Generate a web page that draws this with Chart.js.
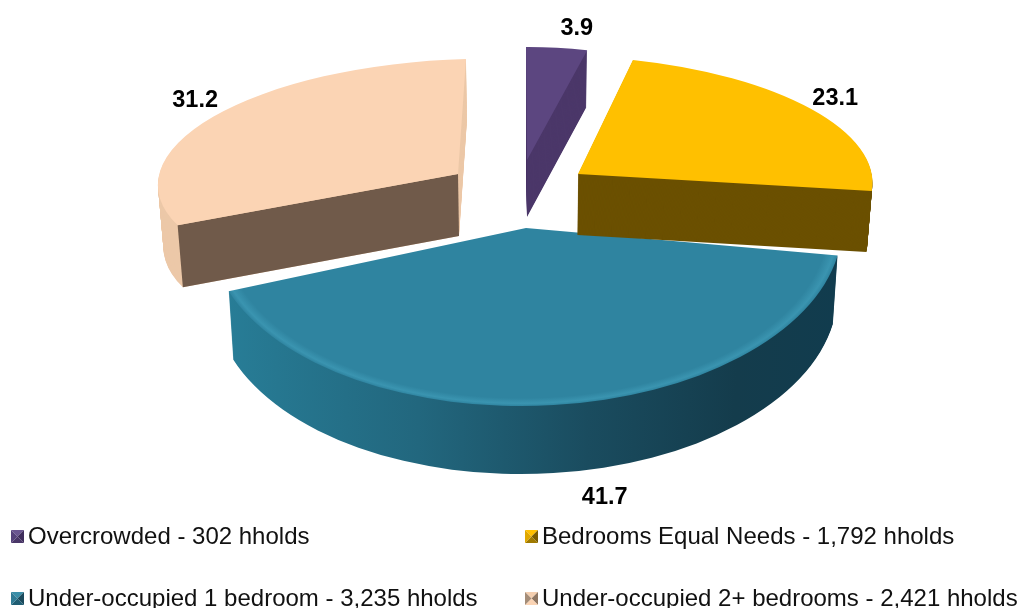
<!DOCTYPE html>
<html>
<head>
<meta charset="utf-8">
<style>
  html, body { margin: 0; padding: 0; background: #fff; overflow: hidden; }
  canvas { display: block; }
</style>
<script src="https://cdn.jsdelivr.net/npm/chart.js@4"></script>
</head>
<body>
<canvas id="myChart" width="1021" height="608"></canvas>
<script>
const categories = [
  "Overcrowded - 302 hholds",
  "Bedrooms Equal Needs - 1,792 hholds",
  "Under-occupied 1 bedroom - 3,235 hholds",
  "Under-occupied 2+ bedrooms - 2,421 hholds",
];
const shares = [3.9, 23.1, 41.7, 31.2];
const shareLabels = ["3.9", "23.1", "41.7", "31.2"];

const topColors = ["#5c4680", "#ffc000", "#2f84a0", "#fbd4b4"];
const wallColors = ["#4b3769", "#6b5000", "#1f5d73", "#ecc8a8"];

// each slice sits on its own tilted plane: tip, and where the radius goes across / up
const planes = [
  { tip: [527, 160], ex: [252, -1], ey: [-1, -113], depth: 57 },
  { tip: [578, 174], ex: [294, 2], ey: [-17, -118], depth: 61 },
  { tip: [526, 228], ex: [316, 5], ey: [14, -178], depth: 68 },
  { tip: [458, 174], ex: [300, -8], ey: [8, -115], depth: 62 },
];
const drawOrder = [0, 3, 2, 1];
const vanishX = 526;
const labelNudges = [[20, -19], [24, -11], [51, 92], [-18, -16]];

// legend markers: top, right, bottom, left facets
const markerFacets = [
  ["#6a5590", "#3f2d5c", "#4a3768", "#55417a"],
  ["#ffc000", "#7a5c00", "#a07a00", "#e0a800"],
  ["#3a8ea8", "#1a4a5c", "#1f5d73", "#2f7a94"],
  ["#f4cfb0", "#8f7763", "#fbd4b4", "#a58d78"],
];
const legendSpots = [[11, 543], [525, 543], [11, 605], [525, 605]];

function placed(plane, t) {
  const s = 1 - 0.015 * t;
  return {
    tip: [vanishX + (plane.tip[0] - vanishX) * s, plane.tip[1] + plane.depth * t],
    ex: [plane.ex[0] * s, plane.ex[1]],
    ey: [plane.ey[0] * s, plane.ey[1]],
  };
}

function drawSlice(ctx, arc, plane, t, fill) {
  const p = placed(plane, t);
  const R = arc.outerRadius;
  ctx.save();
  ctx.translate(p.tip[0], p.tip[1]);
  ctx.transform(p.ex[0] / R, p.ex[1] / R, -p.ey[0] / R, -p.ey[1] / R, 0, 0);
  ctx.translate(-arc.x, -arc.y);
  const keep = arc.options;
  arc.options = {
    backgroundColor: fill,
    borderColor: "transparent",
    borderWidth: 0,
    borderAlign: "center",
    offset: 0,
    spacing: 0,
    circular: true,
  };
  arc.draw(ctx);
  arc.options = keep;
  ctx.restore();
}

function pointAt(p, theta) {
  return [
    p.tip[0] + Math.sin(theta) * p.ex[0] + Math.cos(theta) * p.ey[0],
    p.tip[1] + Math.sin(theta) * p.ex[1] + Math.cos(theta) * p.ey[1],
  ];
}

const pie3d = {
  id: "pie3d",
  beforeDatasetDraw(chart) {
    const ctx = chart.ctx;
    const arcs = chart.getDatasetMeta(0).data;

    drawOrder.forEach((i) => {
      const arc = arcs[i];
      const plane = planes[i];
      const R = arc.outerRadius;
      let wallFill = wallColors[i];
      let topFill = topColors[i];

      if (i === 2) {
        // teal wall goes dark towards the right, rim catches the light
        wallFill = ctx.createLinearGradient(arc.x - R, 0, arc.x + R, 0);
        wallFill.addColorStop(0, "#287f99");
        wallFill.addColorStop(0.35, "#22677e");
        wallFill.addColorStop(0.62, "#1a4c5f");
        wallFill.addColorStop(0.85, "#143c4c");
        wallFill.addColorStop(1, "#113c4e");
        topFill = ctx.createRadialGradient(arc.x, arc.y, 0, arc.x, arc.y, R);
        topFill.addColorStop(0, "#2f84a0");
        topFill.addColorStop(0.955, "#2f84a0");
        topFill.addColorStop(0.985, "#3a94b0");
        topFill.addColorStop(1, "#2f84a0");
      }

      for (let d = plane.depth; d > 0; d--) {
        drawSlice(ctx, arc, plane, d / plane.depth, wallFill);
      }

      if (i === 3) {
        // front face of the peach slice is the brown one
        const theta = arc.startAngle + Math.PI / 2;
        const a = placed(plane, 0);
        const b = placed(plane, 1);
        const a1 = pointAt(a, theta);
        const b1 = pointAt(b, theta);
        ctx.fillStyle = "#705a4a";
        ctx.beginPath();
        ctx.moveTo(a.tip[0], a.tip[1]);
        ctx.lineTo(a1[0], a1[1]);
        ctx.lineTo(b1[0], b1[1]);
        ctx.lineTo(b.tip[0], b.tip[1]);
        ctx.closePath();
        ctx.fill();
      }

      drawSlice(ctx, arc, plane, 0, topFill);
    });
    return false;
  },
  afterDraw(chart) {
    const ctx = chart.ctx;
    const arcs = chart.getDatasetMeta(0).data;

    ctx.save();
    ctx.fillStyle = "#000";
    ctx.font = "bold 23.5px 'Liberation Sans'";
    ctx.textAlign = "center";
    ctx.textBaseline = "middle";
    shareLabels.forEach((label, i) => {
      const arc = arcs[i];
      const mid = (arc.startAngle + arc.endAngle) / 2 + Math.PI / 2;
      const spot = pointAt(placed(planes[i], 0), mid);
      ctx.fillText(label, spot[0] + labelNudges[i][0], spot[1] + labelNudges[i][1]);
    });

    ctx.font = "24px 'Liberation Sans'";
    ctx.textAlign = "left";
    ctx.textBaseline = "alphabetic";
    categories.forEach((name, i) => {
      const x = legendSpots[i][0];
      const y = legendSpots[i][1];
      const size = 13;
      const cx = x + size / 2;
      const cy = y - size / 2;
      const corners = [[x, y - size], [x + size, y - size], [x + size, y], [x, y]];
      markerFacets[i].forEach((color, f) => {
        const c1 = corners[f];
        const c2 = corners[(f + 1) % 4];
        ctx.fillStyle = color;
        ctx.beginPath();
        ctx.moveTo(c1[0], c1[1]);
        ctx.lineTo(c2[0], c2[1]);
        ctx.lineTo(cx, cy);
        ctx.closePath();
        ctx.fill();
      });
      ctx.fillStyle = "#111";
      ctx.fillText(name, x + size + 4, y + 1);
    });
    ctx.restore();
  },
};

const myChart = new Chart(document.getElementById("myChart"), {
  type: "pie",
  data: {
    labels: categories,
    datasets: [{ data: shares, backgroundColor: topColors, borderWidth: 0 }],
  },
  options: {
    responsive: false,
    animation: false,
    events: [],
    plugins: {
      legend: { display: false },
      tooltip: { enabled: false },
    },
  },
  plugins: [pie3d],
});
</script>
</body>
</html>
